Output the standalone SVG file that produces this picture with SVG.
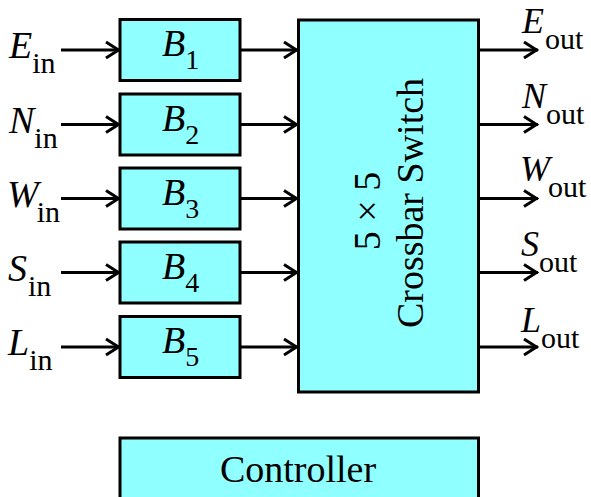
<svg xmlns="http://www.w3.org/2000/svg" width="591" height="497" viewBox="0 0 591 497">
<defs>
<style>
.box{fill:#8FFFFF;stroke:#000;stroke-width:3}
text{font-family:"Liberation Serif","Times New Roman",serif;fill:#000}
.it{font-style:italic}
.wire{stroke:#000;stroke-width:3;fill:none;marker-end:url(#arr)}
</style>
<marker id="arr" markerUnits="userSpaceOnUse" markerWidth="20" markerHeight="20" viewBox="-16 -10 20 20" refX="0" refY="0" orient="auto" overflow="visible">
<path d="M-14,-8 L-1.5,0 L-14,8" fill="none" stroke="#000" stroke-width="3"/>
</marker>
</defs>
<rect width="591" height="497" fill="#fff"/>

<g id="connectors">
<line class="wire" x1="61" y1="50" x2="120" y2="50"/>
<line class="wire" x1="61" y1="124.5" x2="120" y2="124.5"/>
<line class="wire" x1="61" y1="198.5" x2="120" y2="198.5"/>
<line class="wire" x1="61" y1="272.5" x2="120" y2="272.5"/>
<line class="wire" x1="61" y1="347" x2="120" y2="347"/>
<line class="wire" x1="240" y1="50" x2="298" y2="50"/>
<line class="wire" x1="240" y1="124.5" x2="298" y2="124.5"/>
<line class="wire" x1="240" y1="198.5" x2="298" y2="198.5"/>
<line class="wire" x1="240" y1="272.5" x2="298" y2="272.5"/>
<line class="wire" x1="240" y1="347" x2="298" y2="347"/>
<line class="wire" x1="479" y1="50" x2="538" y2="50"/>
<line class="wire" x1="479" y1="124.5" x2="538" y2="124.5"/>
<line class="wire" x1="479" y1="198.5" x2="538" y2="198.5"/>
<line class="wire" x1="479" y1="272.5" x2="538" y2="272.5"/>
<line class="wire" x1="479" y1="347" x2="538" y2="347"/>
</g>

<g id="inputs">
<text x="9" y="58" font-size="38"><tspan class="it">E</tspan><tspan font-size="30" dy="15">in</tspan></text>
<text x="9" y="132.5" font-size="38"><tspan class="it">N</tspan><tspan font-size="30" dy="15">in</tspan></text>
<text x="7" y="206.5" font-size="38"><tspan class="it">W</tspan><tspan font-size="30" dy="15" dx="-2">in</tspan></text>
<text x="8" y="280.5" font-size="38"><tspan class="it">S</tspan><tspan font-size="30" dy="15" dx="1">in</tspan></text>
<text x="8" y="355" font-size="38"><tspan class="it">L</tspan><tspan font-size="30" dy="15">in</tspan></text>
</g>

<g id="B1"><rect class="box" x="120" y="19.5" width="120" height="61"/><text x="162" y="56" font-size="38"><tspan class="it">B</tspan><tspan font-size="28" dy="13">1</tspan></text></g>
<g id="B2"><rect class="box" x="120" y="94" width="120" height="61"/><text x="162" y="130.5" font-size="38"><tspan class="it">B</tspan><tspan font-size="28" dy="13">2</tspan></text></g>
<g id="B3"><rect class="box" x="120" y="168" width="120" height="61"/><text x="162" y="204.5" font-size="38"><tspan class="it">B</tspan><tspan font-size="28" dy="13">3</tspan></text></g>
<g id="B4"><rect class="box" x="120" y="242" width="120" height="61"/><text x="162" y="278.5" font-size="38"><tspan class="it">B</tspan><tspan font-size="28" dy="13">4</tspan></text></g>
<g id="B5"><rect class="box" x="120" y="316.5" width="120" height="61"/><text x="162" y="353" font-size="38"><tspan class="it">B</tspan><tspan font-size="28" dy="13">5</tspan></text></g>

<g id="switch">
<rect class="box" x="298.5" y="20" width="180" height="372"/>
<text font-size="38" text-anchor="middle" transform="translate(380,211) rotate(-90)">5 × 5</text>
<text font-size="38" text-anchor="middle" transform="translate(423,203) rotate(-90)">Crossbar Switch</text>
</g>

<g id="outputs">
<text x="522" y="33" font-size="36"><tspan class="it">E</tspan><tspan font-size="30" dy="16" dx="1">out</tspan></text>
<text x="522" y="108" font-size="36"><tspan class="it">N</tspan><tspan font-size="30" dy="16">out</tspan></text>
<text x="520" y="181" font-size="36"><tspan class="it">W</tspan><tspan font-size="30" dy="16" dx="-2">out</tspan></text>
<text x="521" y="256" font-size="36"><tspan class="it">S</tspan><tspan font-size="30" dy="16">out</tspan></text>
<text x="521" y="332" font-size="36"><tspan class="it">L</tspan><tspan font-size="30" dy="16">out</tspan></text>
</g>

<g id="controller">
<rect class="box" x="120" y="438" width="358.5" height="62"/>
<text x="298" y="482" font-size="38" text-anchor="middle">Controller</text>
</g>
</svg>
